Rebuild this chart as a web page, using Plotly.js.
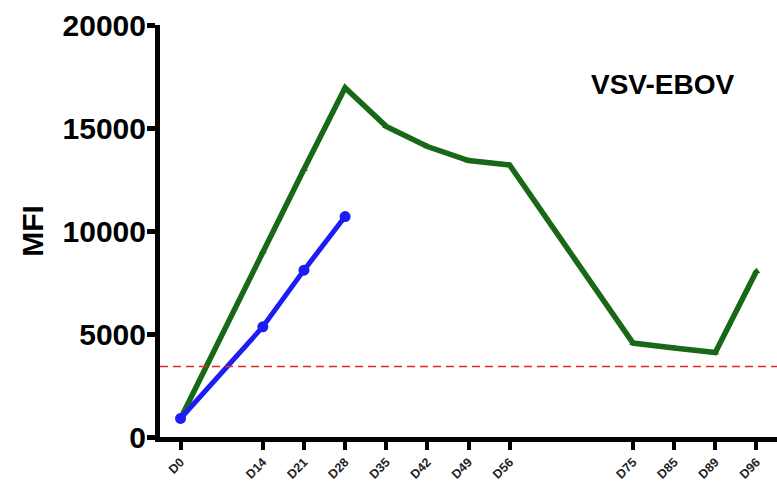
<!DOCTYPE html>
<html>
<head>
<meta charset="utf-8">
<script src="https://cdn.plot.ly/plotly-3.0.1.min.js"></script>
<style>html,body{margin:0;padding:0;background:#fff;}#chart{width:777px;height:481px;}</style>
</head>
<body>
<div id="chart"></div>
<script>
// Category positions (index along axis) and their labels
const tickPositions = [0, 2, 3, 4, 5, 6, 7, 8, 11, 12, 13, 14];
const tickLabels = ["D0", "D14", "D21", "D28", "D35", "D42", "D49", "D56", "D75", "D85", "D89", "D96"];

// Y axis ticks
const yTickVals = [0, 5000, 10000, 15000, 20000];
const yTickText = ["0", "5000", "10000", "15000", "20000"];

// Green series (all timepoints)
const greenX = [0, 2, 3, 4, 5, 6, 7, 8, 11, 12, 13, 14];
const greenY = [900, 9000, 13000, 16950, 15080, 14100, 13420, 13200, 4560, 4320, 4100, 8050];

// Blue series (first four timepoints)
const blueX = [0, 2, 3, 4];
const blueY = [900, 5350, 8100, 10700];

// Threshold (red dashed)
const thresholdValue = 3420;

const fontFam = '"Liberation Sans", Arial, sans-serif';

const traces = [
  {
    x: greenX, y: greenY, type: 'scatter', mode: 'lines+markers',
    line: {color: 'rgb(24,104,24)', width: 5.5},
    marker: {symbol: 'triangle-up', size: 7, color: 'rgb(24,104,24)'},
    showlegend: false, hoverinfo: 'x+y'
  },
  {
    x: blueX, y: blueY, type: 'scatter', mode: 'lines+markers',
    line: {color: 'rgb(28,28,245)', width: 5},
    marker: {symbol: 'circle', size: 11, color: 'rgb(28,28,245)'},
    showlegend: false, hoverinfo: 'x+y'
  }
];

const layout = {
  width: 777, height: 481,
  margin: {l: 160, r: 0, t: 25, b: 44},
  paper_bgcolor: '#fff', plot_bgcolor: '#fff',
  font: {family: fontFam, color: '#000'},
  xaxis: {
    range: [-0.5, 14.5],
    tickmode: 'array', tickvals: tickPositions, ticktext: tickLabels,
    tickangle: -45,
    ticks: 'outside', ticklen: 8, tickwidth: 4, tickcolor: '#000',
    showline: true, linecolor: '#000', linewidth: 5,
    showgrid: false, zeroline: false,
    tickfont: {family: fontFam, size: 12.5, weight: 'bold', color: '#222'}
  },
  yaxis: {
    range: [0, 20000],
    tickmode: 'array', tickvals: yTickVals, ticktext: yTickText,
    ticks: 'outside', ticklen: 8, tickwidth: 5, tickcolor: '#000',
    showline: true, linecolor: '#000', linewidth: 5,
    showgrid: false, zeroline: false,
    ticklabelstandoff: -5,
    tickfont: {family: fontFam, size: 30, weight: 'bold', color: '#000'},
    title: {text: 'MFI', font: {family: fontFam, size: 30, weight: 'bold', color: '#000'}, standoff: 12}
  },
  shapes: [{
    type: 'line', xref: 'paper', x0: 0, x1: 1, yref: 'y', y0: thresholdValue, y1: thresholdValue,
    line: {color: 'rgb(225,40,40)', width: 1.5, dash: '8px,5px'}
  }],
  annotations: [{
    text: 'VSV-EBOV', xref: 'paper', yref: 'paper', x: 0.815, y: 0.855,
    xanchor: 'center', yanchor: 'middle', showarrow: false,
    font: {family: fontFam, size: 28, weight: 'bold', color: '#000'}
  }]
};

Plotly.newPlot('chart', traces, layout, {displayModeBar: false, staticPlot: true});
</script>
</body>
</html>
